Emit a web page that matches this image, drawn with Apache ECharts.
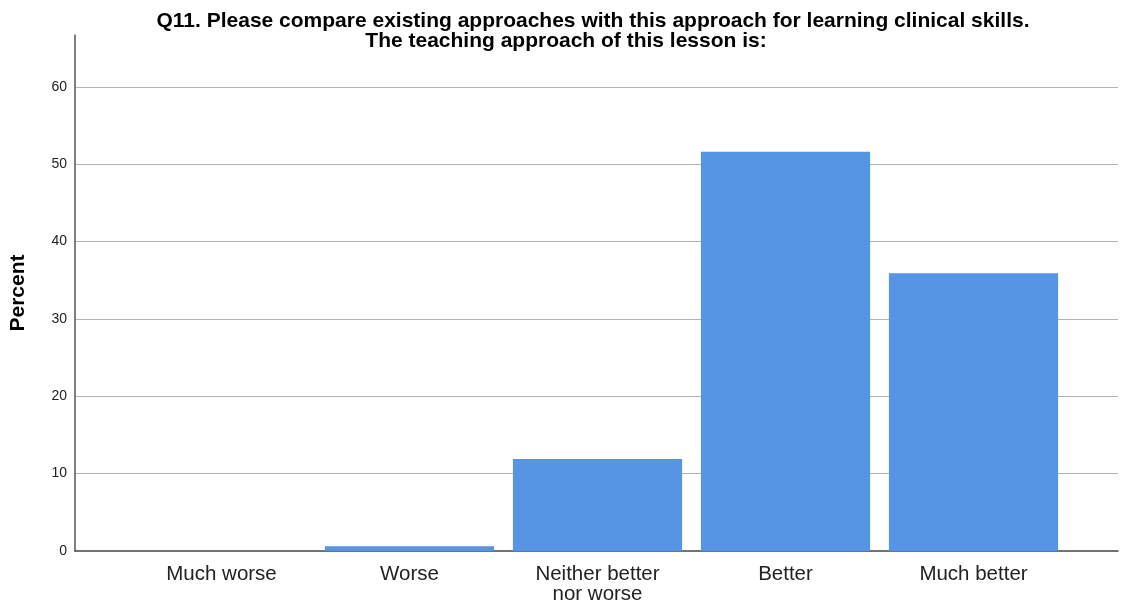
<!DOCTYPE html>
<html>
<head>
<meta charset="utf-8">
<script src="https://cdn.jsdelivr.net/npm/echarts@6/dist/echarts.min.js"></script>
<style>
html, body { margin: 0; padding: 0; background: #ffffff; }
#chart { width: 1123px; height: 605px; }
</style>
</head>
<body>
<div id="chart"></div>
<script>
// survey answers and percentages
const categories = ['Much worse', 'Worse', 'Neither better\nnor worse', 'Better', 'Much better']
const percents = [0, 0.6, 11.9, 51.6, 35.9]
const yTicks = [0, 10, 20, 30, 40, 50, 60]

const titleLines = [
    'Q11. Please compare existing approaches with this approach for learning clinical skills.',
    'The teaching approach of this lesson is:'
]

const chart = echarts.init(document.getElementById('chart'))

const yMax = 66.7
const font = '"Liberation Sans", Arial, sans-serif'

const titleStyle = {
    fontFamily: font,
    fontWeight: 'bold',
    fontSize: 21,
    color: '#000000'
}

const options = {
    backgroundColor: '#ffffff',
    animation: false,
    title: [{
        text: titleLines[0],
        left: 588,
        top: 6,
        textAlign: 'center',
        textStyle: titleStyle
    }, {
        text: titleLines[1],
        left: 561,
        top: 26,
        textAlign: 'center',
        textStyle: titleStyle
    }],
    grid: [{
        left: 75, right: 5, top: 35, bottom: 54
    }, {
        left: 127.5, width: 940, top: 35, bottom: 54
    }],
    xAxis: [{
        type: 'value',
        gridIndex: 0,
        min: 0,
        max: 1,
        axisLine: { show: true, lineStyle: { color: '#444444', width: 1.5 } },
        axisTick: { show: false },
        axisLabel: { show: false },
        splitLine: { show: false }
    }, {
        type: 'category',
        gridIndex: 1,
        data: categories,
        axisLine: { show: false },
        axisTick: { show: false },
        axisLabel: {
            margin: 13,
            fontFamily: font,
            fontSize: 20.5,
            lineHeight: 20,
            color: '#222222',
            interval: 0
        }
    }],
    yAxis: [{
        type: 'value',
        gridIndex: 0,
        min: 0,
        max: yMax,
        interval: 10,
        name: 'Percent',
        nameLocation: 'middle',
        nameGap: 46,
        nameRotate: 90,
        nameTextStyle: {
            fontFamily: font,
            fontWeight: 'bold',
            fontSize: 21,
            color: '#000000'
        },
        axisLine: { show: true, lineStyle: { color: '#555555', width: 1.5 } },
        axisTick: { show: false },
        axisLabel: {
            margin: 8,
            fontFamily: font,
            fontSize: 14,
            color: '#222222',
            formatter: function (v) {
                return yTicks.indexOf(v) >= 0 ? String(v) : ''
            }
        },
        splitLine: {
            show: true,
            showMinLine: false,
            showMaxLine: false,
            lineStyle: { color: '#b4b4b4', width: 1.2 }
        }
    }, {
        type: 'value',
        gridIndex: 1,
        min: 0,
        max: yMax,
        show: false,
        splitLine: { show: false }
    }],
    series: [{
        type: 'bar',
        xAxisIndex: 1,
        yAxisIndex: 1,
        data: percents,
        barWidth: '90%',
        itemStyle: {
            color: '#5595e3',
            borderWidth: 0
        }
    }]
}

chart.setOption(options)
</script>
</body>
</html>
